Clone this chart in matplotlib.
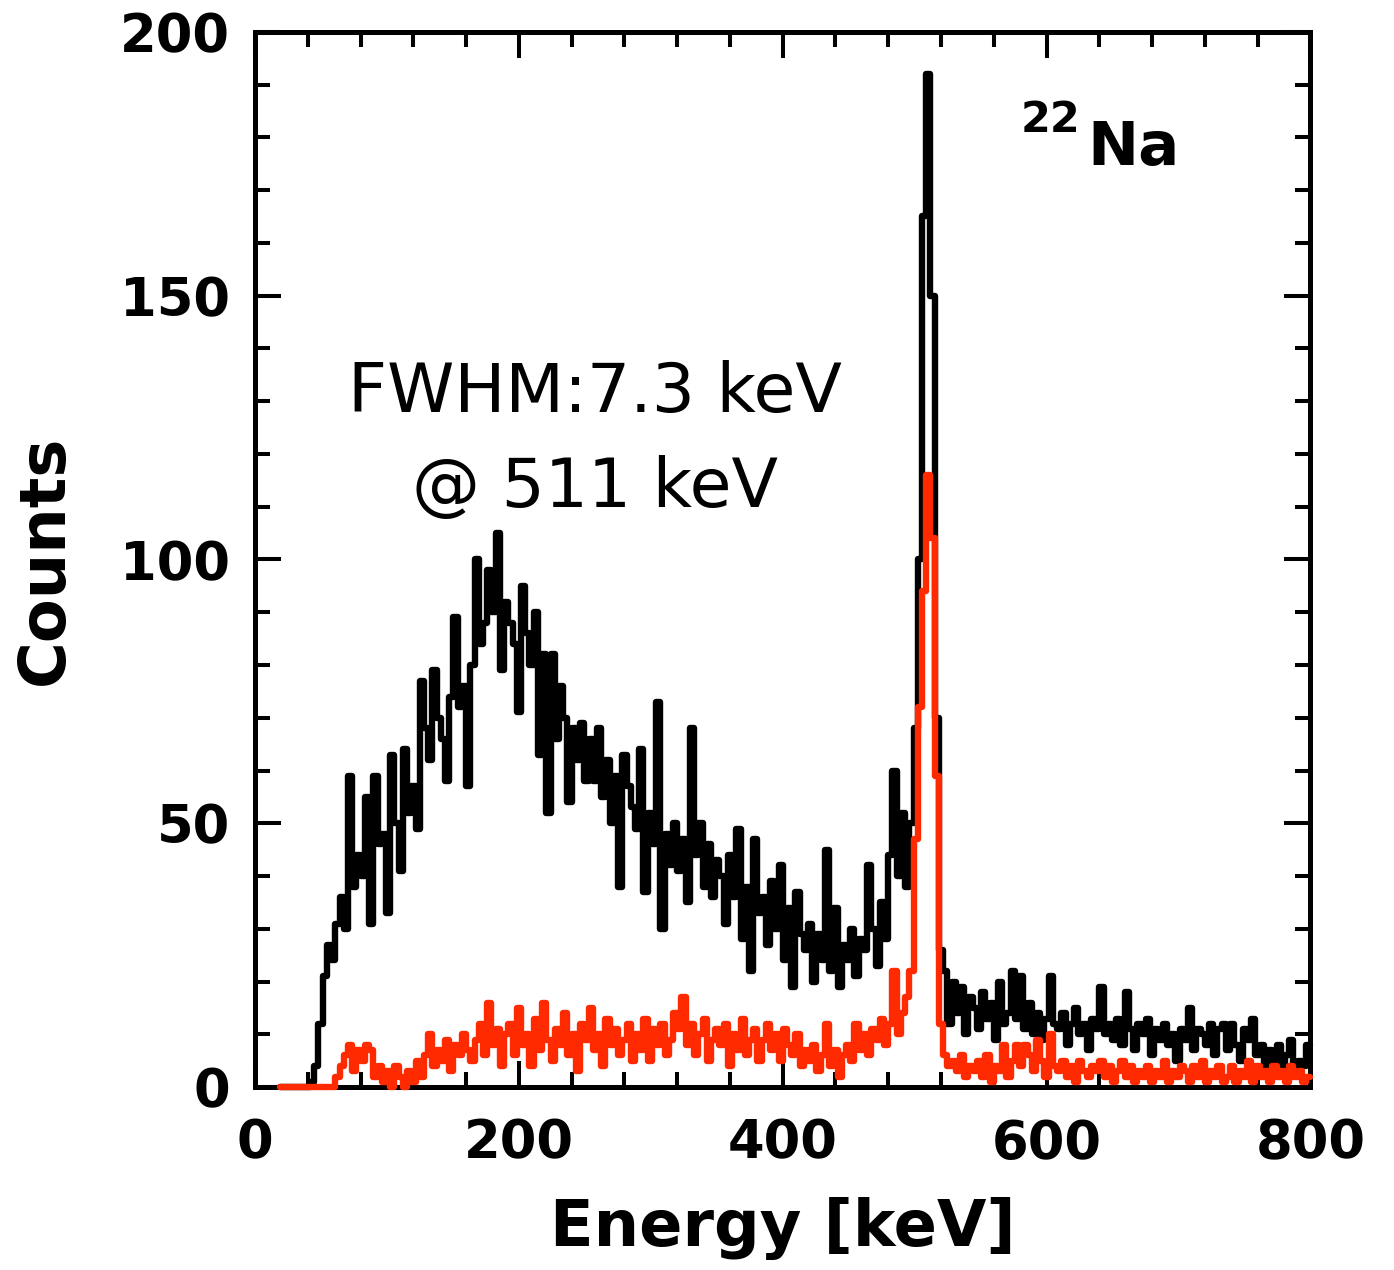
"""
22Na spectrum: total (black) and coincidence-selected (red) counts vs energy
output: out.png
"""

import numpy as np
import matplotlib.pyplot as plt
from matplotlib.ticker import MultipleLocator

# -- DATA --
E_MIN = 19.2  # keV, lower edge of first bin
BIN = 3.2  # keV

black_counts = [
    0, 0, 0, 0,
    0, 0, 0, 1, 4, 12, 21, 27, 24, 31,
    36, 30, 59, 38, 44, 40, 55, 31, 59, 46,
    48, 33, 63, 50, 41, 64, 52, 57, 49, 77,
    68, 62, 79, 70, 66, 58, 74, 89, 72, 76,
    57, 80, 100, 84, 88, 98, 90, 105, 79, 92,
    88, 84, 71, 95, 86, 80, 90, 63, 82, 52,
    82, 66, 76, 70, 54, 68, 62, 69, 58, 66,
    58, 68, 55, 62, 50, 59, 38, 63, 57, 53,
    49, 64, 37, 52, 46, 73, 30, 48, 42, 50,
    41, 47, 35, 68, 44, 50, 38, 46, 36, 43,
    40, 31, 44, 36, 49, 28, 38, 22, 47, 33,
    36, 27, 39, 30, 42, 24, 34, 19, 37, 29,
    26, 31, 20, 29, 24, 45, 22, 34, 19, 27,
    24, 30, 21, 28, 26, 42, 30, 23, 35, 28,
    44, 60, 40, 52, 38, 50, 68, 100, 165, 192,
    150, 70, 26, 22, 12, 20, 14, 19, 10, 17,
    15, 11, 18, 13, 16, 9, 20, 12, 14, 22,
    13, 21, 11, 16, 10, 14, 9, 13, 21, 12,
    11, 14, 8, 12, 15, 10, 12, 7, 13, 11,
    19, 10, 12, 9, 13, 8, 18, 11, 7, 12,
    10, 13, 6, 11, 9, 12, 8, 10, 5, 11,
    9, 15, 7, 11, 10, 8, 12, 6, 11, 12,
    7, 12, 8, 5, 11, 9, 13, 6, 8, 4,
    7, 4, 8, 3, 6, 9, 3, 5, 4, 8,
]

red_counts = [
    0, 0, 0, 0,
    0, 0, 0, 0, 0, 0, 0, 0, 0, 2,
    4, 6, 8, 3, 7, 5, 8, 7, 2, 4,
    1, 3, 0, 4, 2, 0, 3, 1, 5, 2,
    6, 10, 4, 7, 5, 9, 3, 8, 6, 10,
    7, 5, 9, 12, 6, 16, 8, 11, 4, 10,
    12, 6, 15, 8, 10, 4, 13, 7, 16, 9,
    5, 11, 8, 14, 6, 10, 3, 12, 9, 15,
    7, 10, 4, 13, 8, 11, 6, 9, 12, 5,
    10, 7, 13, 5, 11, 8, 12, 6, 9, 14,
    11, 17, 8, 12, 6, 10, 13, 5, 9, 11,
    8, 12, 4, 10, 7, 13, 6, 9, 11, 5,
    9, 12, 7, 10, 5, 11, 8, 6, 10, 4,
    7, 5, 8, 3, 6, 12, 4, 7, 2, 6,
    8, 5, 12, 7, 10, 6, 11, 9, 13, 8,
    12, 22, 10, 14, 17, 22, 47, 72, 94, 116,
    104, 59, 12, 6, 4, 5, 3, 6, 2, 4,
    3, 5, 2, 6, 1, 4, 3, 8, 2, 5,
    8, 4, 8, 6, 3, 9, 5, 2, 10, 4,
    3, 5, 2, 4, 1, 5, 3, 2, 4, 3,
    5, 2, 4, 1, 3, 5, 2, 4, 1, 3,
    2, 4, 1, 3, 2, 5, 1, 3, 2, 4,
    3, 1, 4, 2, 5, 1, 3, 2, 4, 1,
    2, 4, 1, 3, 2, 5, 1, 4, 2, 3,
    1, 4, 2, 3, 1, 4, 2, 3, 1, 2,
]

x_ticks = [0, 200, 400, 600, 800]
y_ticks = [0, 50, 100, 150, 200]

RED = "#ff2a00"

# -- PLOT --
fig = plt.figure(figsize=(13.94, 12.70), dpi=100)
ax = fig.add_axes([0.183, 0.144, 0.757, 0.831])

edges = E_MIN + BIN * np.arange(len(black_counts) + 1)
for counts, col, z in [(black_counts, "black", 3), (red_counts, RED, 4)]:
    st = ax.stairs(counts, edges, baseline=None, color=col, linewidth=4.6,
                   zorder=z, clip_on=False)
    st.set_joinstyle("round")
    st.set_capstyle("round")

ax.set_xlim(0, 800)
ax.set_ylim(0, 200)
ax.set_xticks(x_ticks)
ax.set_yticks(y_ticks)
ax.xaxis.set_minor_locator(MultipleLocator(40))
ax.yaxis.set_minor_locator(MultipleLocator(10))

ax.tick_params(which="both", direction="in", top=True, right=True, width=2.9)
ax.tick_params(which="major", length=19, labelsize=38, pad=18)
ax.tick_params(which="minor", length=11)
ax.tick_params(axis="x", which="major", pad=22)
for lab in ax.get_xticklabels() + ax.get_yticklabels():
    lab.set_fontweight("bold")

for sp in ax.spines.values():
    sp.set_linewidth(3.6)

ax.set_xlabel("Energy [keV]", fontsize=46, fontweight="bold", labelpad=20)
ax.set_ylabel("Counts", fontsize=46, fontweight="bold", labelpad=32)

# annotations
ax.text(258, 128, "FWHM:7.3 keV", fontsize=49, ha="center", va="baseline")
ax.text(258, 110, "@ 511 keV", fontsize=49, ha="center", va="baseline")
ax.text(580, 181, "22", fontsize=31, fontweight="bold", ha="left", va="baseline")
ax.text(631, 174.8, "Na", fontsize=44, fontweight="bold", ha="left", va="baseline")

plt.savefig("out.png", dpi=100)
plt.close()
